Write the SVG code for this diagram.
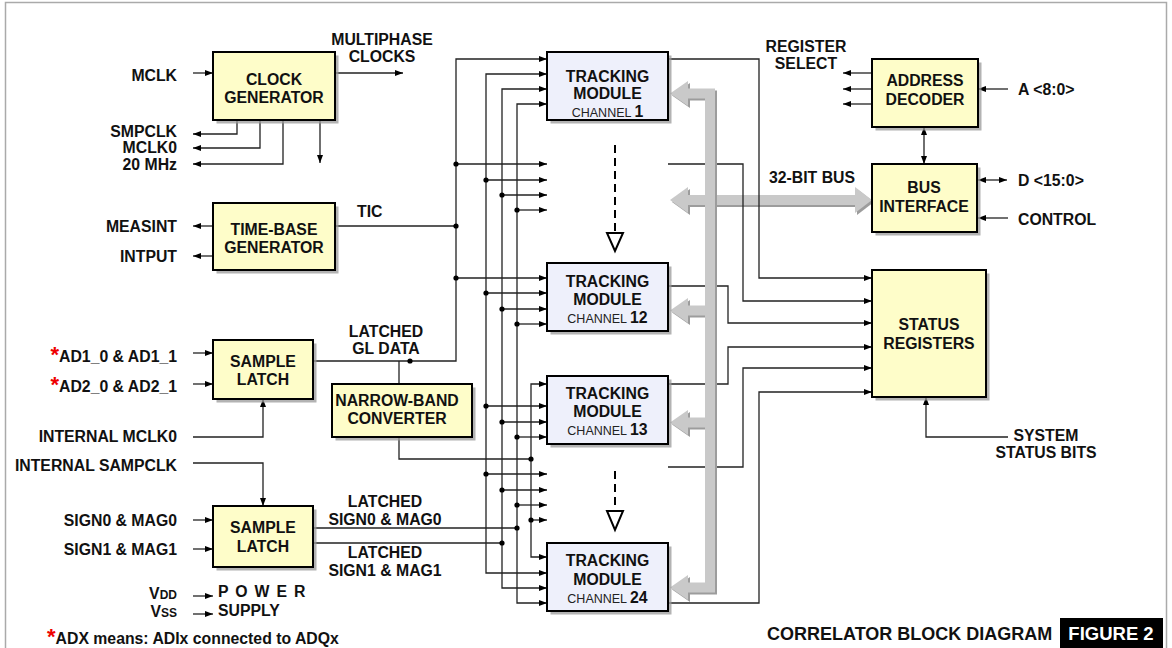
<svg xmlns="http://www.w3.org/2000/svg" width="1172" height="648" viewBox="0 0 1172 648">
<style>
.box{stroke:#000;stroke-width:2}
.y{fill:#FEFDC9}
.tm{fill:#EEF0FB}
.sh{fill:#9a9a9a;opacity:.75}
.t{font-family:"Liberation Sans",Arial,Helvetica,sans-serif;font-weight:bold;font-size:15.8px;fill:#111}
.m{text-anchor:middle}
.e{text-anchor:end}
.ch{font-weight:normal;font-size:12.5px;fill:#222}
.ln{fill:none;stroke:#222;stroke-width:1.3}
.a{marker-end:url(#ah)}
.b{marker-start:url(#ah);marker-end:url(#ah)}
.dot{fill:#000}
.bus{fill:none;stroke:#c9c9c9;stroke-width:10}
.bsh{fill:none;stroke:#9c9c9c;stroke-width:10}
.bh{fill:#c9c9c9}
.bhs{fill:#9c9c9c}
.dash{fill:none;stroke:#000;stroke-width:2;stroke-dasharray:8 5}
.tri{fill:#fff;stroke:#000;stroke-width:2}
.red{fill:#e00;font-size:22px}
.big{font-size:18px}
.fig{font-size:18.5px;fill:#fff}
</style>
<defs>
<marker id="ah" viewBox="0 0 8 6" refX="8" refY="3" markerWidth="8" markerHeight="6" markerUnits="userSpaceOnUse" orient="auto-start-reverse">
<path d="M0,0 L8,3 L0,6 z" fill="#000"/>
</marker>
</defs>
<rect x="5.5" y="2.5" width="1161" height="700" fill="#fff" stroke="#aaa" stroke-width="1.5"/>

<g id="bus32">
<path class="bsh" d="M688 202 H857"/>
<polygon class="bhs" points="672,202 690,189 690,215"/>
<polygon class="bhs" points="874,202 857,189 857,215"/>
<path class="bus" d="M688 200 H857"/>
<polygon class="bh" points="670,200 688,187 688,213"/>
<polygon class="bh" points="872,200 855,187 855,213"/>
</g>

<g id="connectors">
<path class="ln a" d="M193 73 H213"/>
<path class="ln a" d="M335 73 H403"/>
<path class="ln a" d="M237 120 V134 H193"/>
<path class="ln a" d="M260 120 V148 H193"/>
<path class="ln a" d="M283 120 V164 H193"/>
<path class="ln a" d="M320 120 V163"/>
<path class="ln a" d="M213 226 H193"/>
<path class="ln a" d="M213 256 H193"/>
<path class="ln" d="M335 226 H456"/>
<path class="ln a" d="M193 353 H213"/>
<path class="ln a" d="M193 384 H213"/>
<path class="ln a" d="M193 437 H263 V399"/>
<path class="ln a" d="M313 361 H456 V59 H547"/>
<path class="ln" d="M399 361 V384"/>
<path class="ln" d="M399 437 V459 H531"/>
<path class="ln a" d="M193 463 H263 V506"/>
<path class="ln a" d="M193 520 H213"/>
<path class="ln a" d="M193 549 H213"/>
<path class="ln" d="M313 528 H517"/>
<path class="ln" d="M313 543 H502"/>
<path class="ln a" d="M193 596 H213"/>
<path class="ln a" d="M193 614 H213"/>
<path class="ln b" d="M547 74 H486 V573 H547"/>
<path class="ln b" d="M547 89 H502 V588 H547"/>
<path class="ln b" d="M547 104 H517 V603 H547"/>
<path class="ln b" d="M547 384 H531 V557 H547"/>
<path class="ln a" d="M456 164 H547"/>
<path class="ln a" d="M486 180 H547"/>
<path class="ln a" d="M502 195 H547"/>
<path class="ln a" d="M517 210 H547"/>
<path class="ln a" d="M456 278 H547"/>
<path class="ln a" d="M486 293 H547"/>
<path class="ln a" d="M502 309 H547"/>
<path class="ln a" d="M517 324 H547"/>
<path class="ln a" d="M486 406 H547"/>
<path class="ln a" d="M502 422 H547"/>
<path class="ln a" d="M517 437 H547"/>
<path class="ln a" d="M486 474 H547"/>
<path class="ln a" d="M502 490 H547"/>
<path class="ln a" d="M517 505 H547"/>
<path class="ln a" d="M531 520 H547"/>
<circle class="dot" cx="456" cy="164" r="2.6"/>
<circle class="dot" cx="456" cy="226" r="2.6"/>
<circle class="dot" cx="456" cy="278" r="2.6"/>
<circle class="dot" cx="410" cy="361" r="2.6"/>
<circle class="dot" cx="486" cy="180" r="2.6"/>
<circle class="dot" cx="486" cy="293" r="2.6"/>
<circle class="dot" cx="486" cy="406" r="2.6"/>
<circle class="dot" cx="486" cy="474" r="2.6"/>
<circle class="dot" cx="502" cy="195" r="2.6"/>
<circle class="dot" cx="502" cy="309" r="2.6"/>
<circle class="dot" cx="502" cy="422" r="2.6"/>
<circle class="dot" cx="502" cy="490" r="2.6"/>
<circle class="dot" cx="502" cy="543" r="2.6"/>
<circle class="dot" cx="517" cy="210" r="2.6"/>
<circle class="dot" cx="517" cy="324" r="2.6"/>
<circle class="dot" cx="517" cy="437" r="2.6"/>
<circle class="dot" cx="517" cy="505" r="2.6"/>
<circle class="dot" cx="517" cy="528" r="2.6"/>
<circle class="dot" cx="531" cy="459" r="2.6"/>
<circle class="dot" cx="531" cy="520" r="2.6"/>
<path class="dash" d="M615 145 V231"/>
<polygon class="tri" points="607,233 623,233 615,251"/>
<path class="dash" d="M615 471 V509"/>
<polygon class="tri" points="607,511 623,511 615,530"/>
<path class="ln a" d="M668 59 H759 V278 H872"/>
<path class="ln a" d="M668 164 H743 V301 H872"/>
<path class="ln a" d="M668 286 H728 V323 H872"/>
<path class="ln a" d="M668 384 H728 V347 H872"/>
<path class="ln a" d="M668 467 H743 V368 H872"/>
<path class="ln a" d="M668 603 H759 V392 H872"/>
<path class="ln a" d="M1008 437 H926 V397"/>
<path class="ln a" d="M872 73 H843"/>
<path class="ln a" d="M872 89 H843"/>
<path class="ln a" d="M872 104 H843"/>
<path class="ln a" d="M1008 89 H978"/>
<path class="ln b" d="M924 127 V164"/>
<path class="ln b" d="M978 180 H1007"/>
<path class="ln a" d="M1008 218 H978"/>
</g>

<g id="bus">
<path class="bsh" d="M688 95.5 H712 V589.5 H688 M712 312.5 H688 M712 424.5 H688"/>
<polygon class="bhs" points="672,95.5 690,83 690,108"/>
<polygon class="bhs" points="672,312.5 690,300 690,325"/>
<polygon class="bhs" points="672,424.5 690,412 690,437"/>
<polygon class="bhs" points="672,589.5 690,577 690,602"/>
<path class="bus" d="M688 93.5 H710 V587.5 H688 M710 310.5 H688 M710 422.5 H688" stroke-linejoin="miter"/>
<polygon class="bh" points="670,93.5 688,81 688,106"/>
<polygon class="bh" points="670,310.5 688,298 688,323"/>
<polygon class="bh" points="670,422.5 688,410 688,435"/>
<polygon class="bh" points="670,587.5 688,575 688,600"/>
</g>

<g id="clock-generator">
<rect class="sh" x="216.5" y="55.5" width="122" height="68"/>
<rect class="box y" x="213" y="52" width="122" height="68"/>
<text class="t m" x="274" y="85">CLOCK</text>
<text class="t m" x="274" y="103">GENERATOR</text>
</g>
<g id="time-base-generator">
<rect class="sh" x="216.5" y="206.5" width="122" height="67"/>
<rect class="box y" x="213" y="203" width="122" height="67"/>
<text class="t m" x="274" y="235">TIME-BASE</text>
<text class="t m" x="274" y="253">GENERATOR</text>
</g>
<g id="sample-latch-1">
<rect class="sh" x="216.5" y="343.5" width="100" height="59"/>
<rect class="box y" x="213" y="340" width="100" height="59"/>
<text class="t m" x="263" y="367">SAMPLE</text>
<text class="t m" x="263" y="385">LATCH</text>
</g>
<g id="narrow-band-converter">
<rect class="sh" x="335.5" y="387.5" width="140" height="53"/>
<rect class="box y" x="332" y="384" width="140" height="53"/>
<text class="t m" x="397" y="405.5">NARROW-BAND</text>
<text class="t m" x="397" y="424">CONVERTER</text>
</g>
<g id="sample-latch-2">
<rect class="sh" x="216.5" y="509.5" width="100" height="61"/>
<rect class="box y" x="213" y="506" width="100" height="61"/>
<text class="t m" x="263" y="533">SAMPLE</text>
<text class="t m" x="263" y="552">LATCH</text>
</g>
<g id="tracking-module-1">
<rect class="sh" x="550.5" y="55.5" width="121" height="68"/>
<rect class="box tm" x="547" y="52" width="121" height="68"/>
<text class="t m" x="607.5" y="82">TRACKING</text>
<text class="t m" x="607.5" y="99">MODULE</text>
<text class="t m" x="607.5" y="117"><tspan class="ch">CHANNEL </tspan>1</text>
</g>
<g id="tracking-module-12">
<rect class="sh" x="550.5" y="266.5" width="121" height="68"/>
<rect class="box tm" x="547" y="263" width="121" height="68"/>
<text class="t m" x="607.5" y="287">TRACKING</text>
<text class="t m" x="607.5" y="305">MODULE</text>
<text class="t m" x="607.5" y="323"><tspan class="ch">CHANNEL </tspan>12</text>
</g>
<g id="tracking-module-13">
<rect class="sh" x="550.5" y="379.5" width="121" height="68"/>
<rect class="box tm" x="547" y="376" width="121" height="68"/>
<text class="t m" x="607.5" y="399">TRACKING</text>
<text class="t m" x="607.5" y="417">MODULE</text>
<text class="t m" x="607.5" y="435"><tspan class="ch">CHANNEL </tspan>13</text>
</g>
<g id="tracking-module-24">
<rect class="sh" x="550.5" y="546.5" width="121" height="68"/>
<rect class="box tm" x="547" y="543" width="121" height="68"/>
<text class="t m" x="607.5" y="566">TRACKING</text>
<text class="t m" x="607.5" y="585">MODULE</text>
<text class="t m" x="607.5" y="603"><tspan class="ch">CHANNEL </tspan>24</text>
</g>
<g id="address-decoder">
<rect class="sh" x="875.5" y="62.5" width="106" height="68"/>
<rect class="box y" x="872" y="59" width="106" height="68"/>
<text class="t m" x="925" y="86">ADDRESS</text>
<text class="t m" x="925" y="105">DECODER</text>
</g>
<g id="bus-interface">
<rect class="sh" x="875.5" y="167.5" width="105" height="68"/>
<rect class="box y" x="872" y="164" width="105" height="68"/>
<text class="t m" x="924" y="193">BUS</text>
<text class="t m" x="924" y="212">INTERFACE</text>
</g>
<g id="status-registers">
<rect class="sh" x="875.5" y="273.5" width="114" height="127"/>
<rect class="box y" x="872" y="270" width="114" height="127"/>
<text class="t m" x="929" y="330">STATUS</text>
<text class="t m" x="929" y="349">REGISTERS</text>
</g>

<g id="labels">
<text class="t m" x="382" y="45">MULTIPHASE</text>
<text class="t m" x="382" y="62">CLOCKS</text>
<text class="t e" x="177" y="81">MCLK</text>
<text class="t e" x="177" y="137">SMPCLK</text>
<text class="t e" x="177" y="153">MCLK0</text>
<text class="t e" x="177" y="170">20 MHz</text>
<text class="t e" x="177" y="232">MEASINT</text>
<text class="t e" x="177" y="262">INTPUT</text>
<text class="t" x="357" y="217">TIC</text>
<text class="t e" x="177" y="362"><tspan class="red">*</tspan>AD1_0 &amp; AD1_1</text>
<text class="t e" x="177" y="392"><tspan class="red">*</tspan>AD2_0 &amp; AD2_1</text>
<text class="t m" x="386" y="337">LATCHED</text>
<text class="t m" x="386" y="354">GL DATA</text>
<text class="t e" x="177" y="442">INTERNAL MCLK0</text>
<text class="t e" x="177" y="471">INTERNAL SAMPCLK</text>
<text class="t e" x="177" y="526">SIGN0 &amp; MAG0</text>
<text class="t e" x="177" y="555">SIGN1 &amp; MAG1</text>
<text class="t m" x="385" y="507">LATCHED</text>
<text class="t m" x="385" y="525">SIGN0 &amp; MAG0</text>
<text class="t m" x="385" y="558">LATCHED</text>
<text class="t m" x="385" y="576">SIGN1 &amp; MAG1</text>
<text class="t e" x="177" y="599">V<tspan font-size="12">DD</tspan></text>
<text class="t e" x="177" y="617">V<tspan font-size="12">SS</tspan></text>
<text class="t" x="218" y="597" letter-spacing="1.3">P O W E R</text>
<text class="t" x="218" y="616">SUPPLY</text>
<text class="t" x="47" y="644"><tspan class="red">*</tspan>ADX means: ADIx connected to ADQx</text>
<text class="t m" x="806" y="52">REGISTER</text>
<text class="t m" x="806" y="69">SELECT</text>
<text class="t" x="1018" y="95">A &lt;8:0&gt;</text>
<text class="t m" x="812" y="183">32-BIT BUS</text>
<text class="t" x="1018" y="186">D &lt;15:0&gt;</text>
<text class="t" x="1018" y="225">CONTROL</text>
<text class="t m" x="1046" y="441">SYSTEM</text>
<text class="t m" x="1046" y="458">STATUS BITS</text>
<text class="t big" x="767" y="640">CORRELATOR BLOCK DIAGRAM</text>
<rect x="1060" y="618" width="103" height="32" fill="#000"/>
<text class="t m fig" x="1111" y="640">FIGURE 2</text>
</g>
</svg>
